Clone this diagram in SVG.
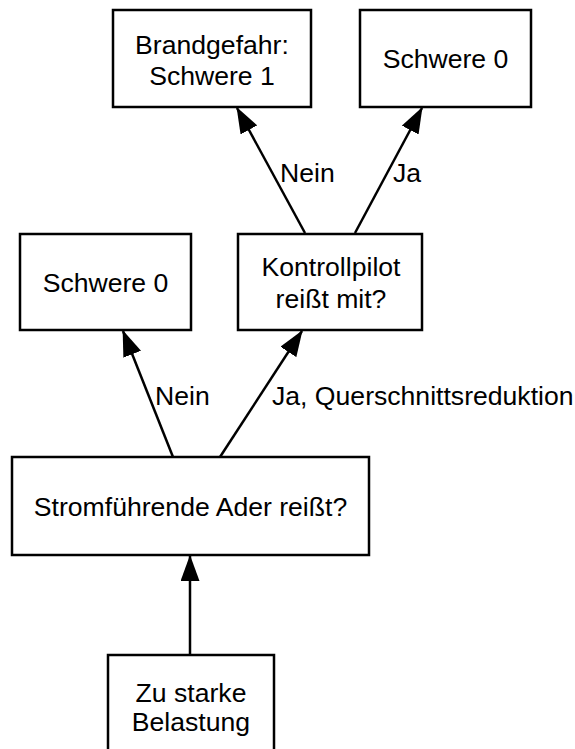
<svg xmlns="http://www.w3.org/2000/svg" width="575" height="749" viewBox="0 0 575 749">
<style>
.box{fill:#fff;stroke:#000;stroke-width:2.5}
.t{font-family:"Liberation Sans",Arial,sans-serif;font-size:26.6px;fill:#000;text-anchor:middle}
.l{font-family:"Liberation Sans",Arial,sans-serif;font-size:26.6px;fill:#000}
.e{stroke:#000;stroke-width:2.5;fill:none;marker-end:url(#ah)}
</style>
<defs>
<marker id="ah" viewBox="0 0 26 19" refX="25" refY="9.5" markerWidth="26" markerHeight="19" markerUnits="userSpaceOnUse" orient="auto">
<path d="M0,0 L26,9.5 L0,19 z" fill="#000"/>
</marker>
</defs>
<rect width="575" height="749" fill="#fff"/>
<g id="connectors">
<line class="e" x1="173" y1="457" x2="123" y2="331"/>
<line class="e" x1="220" y1="457" x2="302" y2="331"/>
<line class="e" x1="305" y1="233" x2="237" y2="108"/>
<line class="e" x1="355" y1="233" x2="422" y2="108"/>
<line class="e" x1="190" y1="655" x2="190" y2="556"/>
<text class="l" x="280" y="182">Nein</text>
<text class="l" x="393" y="182">Ja</text>
<text class="l" x="155" y="405">Nein</text>
<text class="l" x="272" y="405">Ja, Querschnittsreduktion</text>
</g>
<g id="brandgefahr">
<rect class="box" x="113" y="10" width="198" height="97"/>
<text class="t" x="212" y="54">Brandgefahr:</text>
<text class="t" x="212" y="85">Schwere 1</text>
</g>
<g id="schwere0a">
<rect class="box" x="360" y="10" width="171" height="97"/>
<text class="t" x="445.5" y="68">Schwere 0</text>
</g>
<g id="schwere0b">
<rect class="box" x="20" y="234" width="171" height="96"/>
<text class="t" x="105.5" y="292">Schwere 0</text>
</g>
<g id="kontrollpilot">
<rect class="box" x="238" y="234" width="184" height="96"/>
<text class="t" x="331" y="276">Kontrollpilot</text>
<text class="t" x="331" y="308">reißt mit?</text>
</g>
<g id="ader">
<rect class="box" x="12" y="457" width="357" height="98"/>
<text class="t" x="190.5" y="516">Stromführende Ader reißt?</text>
</g>
<g id="belastung">
<rect class="box" x="108" y="655" width="166" height="110"/>
<text class="t" x="191" y="702">Zu starke</text>
<text class="t" x="191" y="731">Belastung</text>
</g>
</svg>
